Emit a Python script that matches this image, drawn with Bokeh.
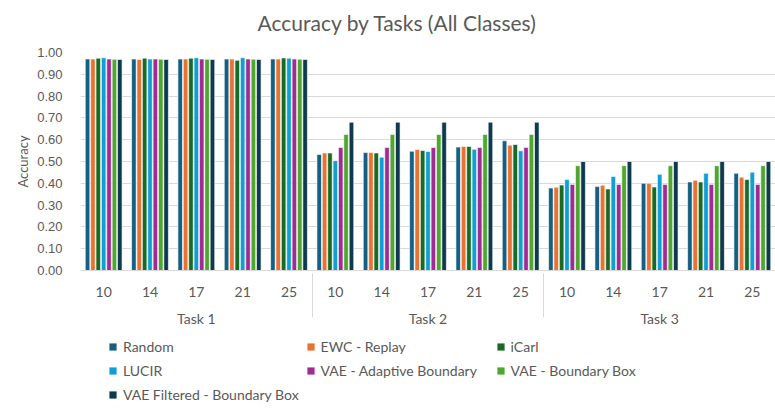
from bokeh.plotting import figure
from bokeh.layouts import column
from bokeh.models import (FactorRange, ColumnDataSource, Legend, LegendItem, FixedTicker,
                          NumeralTickFormatter, Range1d, Label)
from bokeh.transform import dodge
from bokeh.embed import file_html
from bokeh.resources import INLINE

tasks = ["Task 1", "Task 2", "Task 3"]
class_counts = ["10", "14", "17", "21", "25"]
series_names = ["Random", "EWC - Replay", "iCarl", "LUCIR", "VAE - Adaptive Boundary",
                "VAE - Boundary Box", "VAE Filtered - Boundary Box"]
colors = ["#156082", "#E97132", "#196B24", "#0F9ED5", "#A02B93", "#4EA72E", "#0D3A4E"]
chart_title = "Accuracy by Tasks (All Classes)"

# values per series, ordered Task1(10..25), Task2(10..25), Task3(10..25)
random_acc = [0.970, 0.970, 0.970, 0.970, 0.970,
              0.532, 0.541, 0.547, 0.566, 0.595,
              0.378, 0.385, 0.400, 0.406, 0.446]
ewc_acc = [0.970, 0.968, 0.970, 0.970, 0.970,
           0.539, 0.541, 0.555, 0.569, 0.575,
           0.382, 0.391, 0.400, 0.414, 0.428]
icarl_acc = [0.974, 0.974, 0.974, 0.964, 0.975,
             0.539, 0.539, 0.550, 0.569, 0.578,
             0.392, 0.374, 0.383, 0.406, 0.417]
lucir_acc = [0.976, 0.970, 0.976, 0.976, 0.974,
             0.504, 0.520, 0.546, 0.556, 0.549,
             0.417, 0.431, 0.441, 0.446, 0.451]
vae_ab_acc = [0.970, 0.970, 0.970, 0.970, 0.970,
              0.564, 0.564, 0.564, 0.564, 0.564,
              0.395, 0.395, 0.395, 0.395, 0.395]
vae_bb_acc = [0.969, 0.969, 0.969, 0.969, 0.969,
              0.624, 0.624, 0.624, 0.624, 0.624,
              0.481, 0.481, 0.481, 0.481, 0.481]
vae_f_acc = [0.968, 0.968, 0.968, 0.968, 0.968,
             0.680, 0.680, 0.680, 0.680, 0.680,
             0.500, 0.500, 0.500, 0.500, 0.500]
y_ticks = [0.0, 0.1, 0.2, 0.3, 0.4, 0.5, 0.6, 0.7, 0.8, 0.9, 1.0]

all_series = [random_acc, ewc_acc, icarl_acc, lucir_acc, vae_ab_acc, vae_bb_acc, vae_f_acc]
factors = [(t, c) for t in tasks for c in class_counts]

data = {"x": factors}
keys = []
for i, s in enumerate(all_series):
    k = "s%d" % i
    keys.append(k)
    data[k] = s
source = ColumnDataSource(data)

TXT = "#595959"
GRID = "#D9D9D9"


def blank_fig(h):
    f = figure(frame_width=775, frame_height=h, x_range=Range1d(0, 1), y_range=Range1d(2, 3),
               x_axis_type=None, y_axis_type=None, output_backend="svg", toolbar_location=None,
               min_border=0, min_border_left=0, min_border_right=0, min_border_top=0,
               min_border_bottom=0)
    f.outline_line_color = None
    f.xgrid.grid_line_color = None
    f.ygrid.grid_line_color = None
    f.background_fill_color = "white"
    f.border_fill_color = "white"
    return f


# ---- title strip
tf = blank_fig(44)
tf.add_layout(Label(x=317, y=22, x_units="screen", y_units="screen", text=chart_title,
                    text_align="center", text_baseline="middle", text_font="Lato",
                    text_font_size="21px", text_color=TXT))

# ---- main chart
x_range = FactorRange(*factors, group_padding=0, factor_padding=0, range_padding=0)
p = figure(x_range=x_range, y_range=(0, 1.0), frame_width=695, frame_height=218,
           output_backend="svg", toolbar_location=None,
           min_border_left=80, min_border_right=0, min_border_top=8, min_border_bottom=66)
p.outline_line_color = None
p.background_fill_color = "white"
p.border_fill_color = "white"

pitch = 0.116
bw = 0.098
for j, k in enumerate(keys):
    p.vbar(x=dodge("x", (j - 3) * pitch, range=x_range), top=k, width=bw,
           source=source, fill_color=colors[j], line_color="white", line_width=0.6)

p.xgrid.grid_line_color = None
p.ygrid.grid_line_color = GRID
p.yaxis.ticker = FixedTicker(ticks=y_ticks)
p.yaxis.formatter = NumeralTickFormatter(format="0.00")
p.yaxis.axis_line_color = None
p.yaxis.major_tick_line_color = None
p.yaxis.minor_tick_line_color = None
p.yaxis.major_label_text_color = TXT
p.yaxis.major_label_text_font = "Liberation Sans"
p.yaxis.major_label_text_font_size = "13px"
p.yaxis.major_label_standoff = 12
p.yaxis.axis_label = "Accuracy"
p.yaxis.axis_label_text_font = "Lato"
p.yaxis.axis_label_text_font_size = "13px"
p.yaxis.axis_label_text_font_style = "normal"
p.yaxis.axis_label_text_color = TXT
p.yaxis.axis_label_standoff = 3

p.xaxis.axis_line_color = GRID
p.xaxis.major_tick_line_color = None
p.xaxis.minor_tick_line_color = None
p.xaxis.major_label_text_color = TXT
p.xaxis.major_label_text_font = "Lato"
p.xaxis.major_label_text_font_size = "14px"
p.xaxis.major_label_standoff = 10
p.xaxis.group_text_color = TXT
p.xaxis.group_text_font = "Lato"
p.xaxis.group_text_font_size = "14px"
p.xaxis.group_text_font_style = "normal"
p.xaxis.separator_line_color = GRID
p.xaxis.separator_line_width = 1

# ---- legend strip (same data, drawn outside its visible y-range so only the legend shows)
lg = figure(frame_width=775, frame_height=73, x_range=x_range, y_range=Range1d(2, 3),
            x_axis_type=None, y_axis_type=None, output_backend="svg", toolbar_location=None,
            min_border=0, min_border_left=0, min_border_right=0, min_border_top=0,
            min_border_bottom=0)
lg.outline_line_color = None
lg.xgrid.grid_line_color = None
lg.ygrid.grid_line_color = None
lg.background_fill_color = "white"
lg.border_fill_color = "white"

lg_renderers = []
for j, k in enumerate(keys):
    r = lg.vbar(x=dodge("x", (j - 3) * pitch, range=x_range), top=k, width=bw,
                source=source, fill_color=colors[j], line_color=None)
    lg_renderers.append(r)

items = [LegendItem(label=n, renderers=[r]) for n, r in zip(series_names, lg_renderers)]
legend = Legend(items=items, ncols=3, location=(108, 6), orientation="horizontal")
legend.label_text_font = "Lato"
legend.label_text_font_size = "14px"
legend.label_text_color = TXT
legend.glyph_width = 9
legend.glyph_height = 9
legend.label_height = 16
legend.label_standoff = 6
legend.label_width = 168
legend.spacing = 7
legend.padding = 0
legend.margin = 0
legend.border_line_color = None
legend.background_fill_alpha = 0
lg.add_layout(legend, "center")

layout = column(tf, p, lg, spacing=0)
open("out.html", "w").write(file_html(layout, INLINE))
